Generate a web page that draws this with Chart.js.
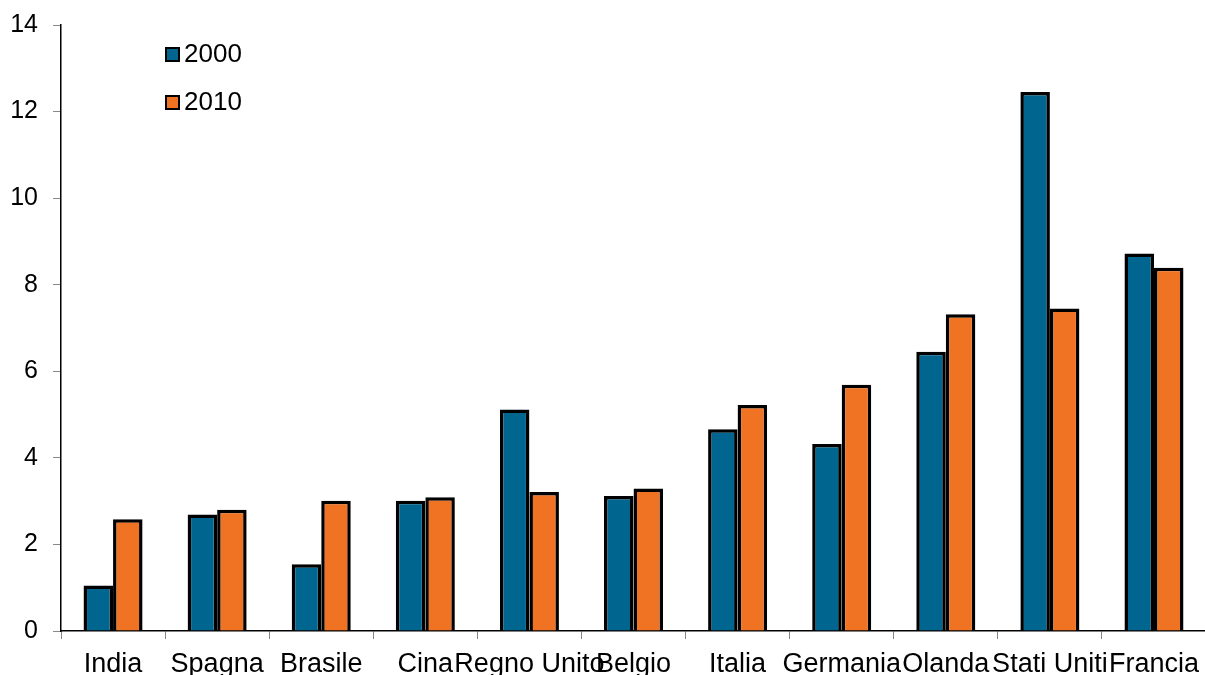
<!DOCTYPE html>
<html>
<head>
<meta charset="utf-8">
<script src="https://cdn.jsdelivr.net/npm/chart.js@4.4.1/dist/chart.umd.min.js"></script>
<style>
  html, body { margin: 0; padding: 0; background: #fff; overflow: hidden; }
  #wrap { position: relative; width: 1208px; height: 675px; }
  #legend { position: absolute; left: 165px; top: 29px; font-family: "Liberation Sans", Arial, sans-serif; font-size: 26px; color: #000; }
  .item { display: flex; align-items: center; height: 48px; }
  .sw { width: 11px; height: 11px; border: 2px solid #000; margin-right: 4px; margin-top: 3px; }
</style>
</head>
<body>
<div id="wrap">
  <canvas id="c" width="1208" height="675"></canvas>
  <div id="legend"></div>
</div>
<script>
const categories = ["India", "Spagna", "Brasile", "Cina", "Regno Unito", "Belgio", "Italia", "Germania", "Olanda", "Stati Uniti", "Francia"];
const seriesNames = ["2000", "2010"];
const values2000 = [1.05, 2.69, 1.54, 3.01, 5.12, 3.12, 4.66, 4.32, 6.45, 12.45, 8.72];
const values2010 = [2.58, 2.80, 3.01, 3.09, 3.21, 3.29, 5.22, 5.69, 7.32, 7.45, 8.39];
const yTicks = [0, 2, 4, 6, 8, 10, 12, 14];
const colors = ["#00668F", "#F07323"];

const FONT = "'Liberation Sans', Arial, sans-serif";

const chart = new Chart(document.getElementById("c"), {
  type: "bar",
  data: {
    labels: categories,
    datasets: [values2000, values2010].map((vals, i) => ({
      label: seriesNames[i],
      data: vals,
      backgroundColor: colors[i],
      borderColor: "#000",
      borderWidth: { top: 3.5, left: 3.5, right: 3.5, bottom: 0 },
      borderSkipped: false,
      categoryPercentage: 0.567,
      barPercentage: 1.0
    }))
  },
  options: {
    responsive: false,
    animation: false,
    layout: { padding: { top: 25, right: 0, left: 0, bottom: 0 } },
    plugins: { legend: { display: false }, tooltip: { enabled: false }, title: { display: false } },
    scales: {
      x: {
        grid: { offset: true, drawOnChartArea: false, drawTicks: true, tickLength: 8, color: "#888", lineWidth: 1 },
        border: { color: "#000", width: 1.5 },
        ticks: { color: "#000", font: { family: FONT, size: 27 }, autoSkip: false, maxRotation: 0, minRotation: 0, padding: 9 },
        afterFit: s => { s.height = 44; }
      },
      y: {
        min: yTicks[0],
        max: yTicks[yTicks.length - 1],
        afterBuildTicks: s => { s.ticks = yTicks.map(v => ({ value: v })); },
        grid: { drawOnChartArea: false, drawTicks: true, tickLength: 8, color: "#888", lineWidth: 1 },
        border: { color: "#000", width: 1.5 },
        ticks: { color: "#000", font: { family: FONT, size: 25 }, padding: 15 },
        afterFit: s => { s.width = 61; s.paddingTop = 0; s.paddingBottom = 0; }
      }
    }
  }
});

// legend built from the dataset names and colours
const legend = document.getElementById("legend");
chart.data.datasets.forEach(ds => {
  const item = document.createElement("div");
  item.className = "item";
  const sw = document.createElement("div");
  sw.className = "sw";
  sw.style.background = ds.backgroundColor;
  const txt = document.createElement("span");
  txt.textContent = ds.label;
  item.appendChild(sw);
  item.appendChild(txt);
  legend.appendChild(item);
});
</script>
</body>
</html>
